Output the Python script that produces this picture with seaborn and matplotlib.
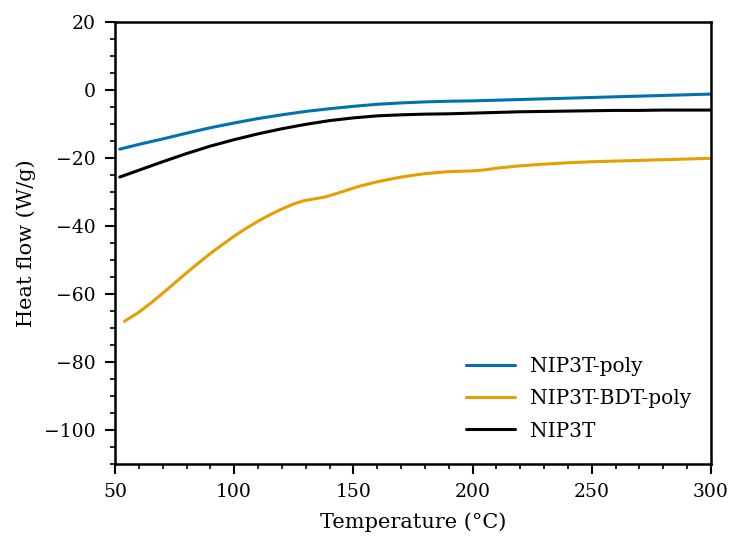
import matplotlib
matplotlib.use("Agg")
import matplotlib.pyplot as plt
from matplotlib.ticker import MultipleLocator
import seaborn as sns
import pandas as pd

# DSC heat-flow traces (W/g) versus temperature (°C)
temp_poly = [52, 60, 70, 80, 90, 100, 110, 120, 130, 140, 150, 160, 170, 180,
             190, 200, 210, 220, 230, 240, 250, 260, 270, 280, 290, 300]
heat_poly = [-17.4, -16.0, -14.4, -12.7, -11.1, -9.7, -8.4, -7.3, -6.3, -5.5,
             -4.8, -4.2, -3.8, -3.5, -3.3, -3.2, -3.0, -2.8, -2.6, -2.4,
             -2.2, -2.0, -1.8, -1.6, -1.4, -1.2]

temp_bdt = [54, 60, 65, 70, 75, 80, 85, 90, 95, 100, 105, 110, 115, 120,
            125, 129, 133, 138, 145, 152, 160, 170, 180, 190, 200, 205, 210,
            220, 230, 240, 250, 260, 270, 280, 290, 300]
heat_bdt = [-68.0, -65.4, -62.7, -59.8, -56.8, -53.8, -50.9, -48.1, -45.5,
            -43.0, -40.7, -38.6, -36.7, -35.0, -33.5, -32.6, -32.1, -31.5,
            -30.0, -28.4, -27.0, -25.6, -24.6, -24.0, -23.8, -23.5, -23.0,
            -22.3, -21.8, -21.4, -21.1, -20.9, -20.7, -20.5, -20.3, -20.1]

temp_nip = [52, 60, 70, 80, 90, 100, 110, 120, 130, 140, 150, 160, 170, 180,
            190, 200, 210, 220, 230, 240, 250, 260, 270, 280, 290, 300]
heat_nip = [-25.6, -23.6, -21.1, -18.7, -16.5, -14.6, -12.9, -11.4, -10.1,
            -9.0, -8.2, -7.6, -7.3, -7.1, -7.0, -6.8, -6.6, -6.4, -6.3, -6.2,
            -6.1, -6.0, -6.0, -5.9, -5.9, -5.9]

series_names = ["NIP3T-poly", "NIP3T-BDT-poly", "NIP3T"]
series_colors = ["#0072B2", "#E69F00", "#000000"]

frames = []
for name, t, h in zip(series_names,
                      [temp_poly, temp_bdt, temp_nip],
                      [heat_poly, heat_bdt, heat_nip]):
    frames.append(pd.DataFrame({"Temperature": t, "Heat": h, "Sample": name}))
df = pd.concat(frames, ignore_index=True)

sns.set_style("ticks")
plt.rcParams["font.family"] = ["DejaVu Serif"]
plt.rcParams["mathtext.fontset"] = "dejavuserif"
plt.rcParams["axes.edgecolor"] = "black"
plt.rcParams["xtick.color"] = "black"
plt.rcParams["ytick.color"] = "black"
plt.rcParams["text.color"] = "black"
plt.rcParams["axes.labelcolor"] = "black"
plt.rcParams["figure.dpi"] = 100
plt.rcParams["savefig.dpi"] = 100

fig = plt.figure(figsize=(7.31, 5.37), dpi=100)
ax = fig.add_axes([0.1573, 0.136, 0.8153, 0.823])

sns.lineplot(data=df, x="Temperature", y="Heat", hue="Sample",
             hue_order=series_names, palette=series_colors,
             linewidth=2.2, ax=ax, sort=True, estimator=None)

ax.set_xlim(50, 300)
ax.set_ylim(-110, 20)
ax.xaxis.set_major_locator(MultipleLocator(50))
ax.xaxis.set_minor_locator(MultipleLocator(10))
ax.yaxis.set_major_locator(MultipleLocator(20))
ax.yaxis.set_minor_locator(MultipleLocator(5))
ax.tick_params(which="major", length=7, width=1.5, labelsize=13.5,
               direction="out", colors="black", pad=7)
ax.tick_params(which="minor", length=3.5, width=1.2, direction="out",
               colors="black")
for s in ax.spines.values():
    s.set_linewidth(1.8)
    s.set_color("black")
    s.set_visible(True)

ax.set_xlabel("Temperature (°C)", fontsize=15, labelpad=8)
ax.set_ylabel("Heat flow (W/g)", fontsize=15, labelpad=6)

leg = ax.legend(frameon=False, loc="lower right", fontsize=14.5,
                bbox_to_anchor=(0.997, 0.012), handlelength=2.4,
                labelspacing=0.65, handletextpad=0.75)
for line in leg.get_lines():
    line.set_linewidth(2.2)

fig.set_size_inches(7.31, 5.37)
fig.savefig("out.png", dpi=100)
